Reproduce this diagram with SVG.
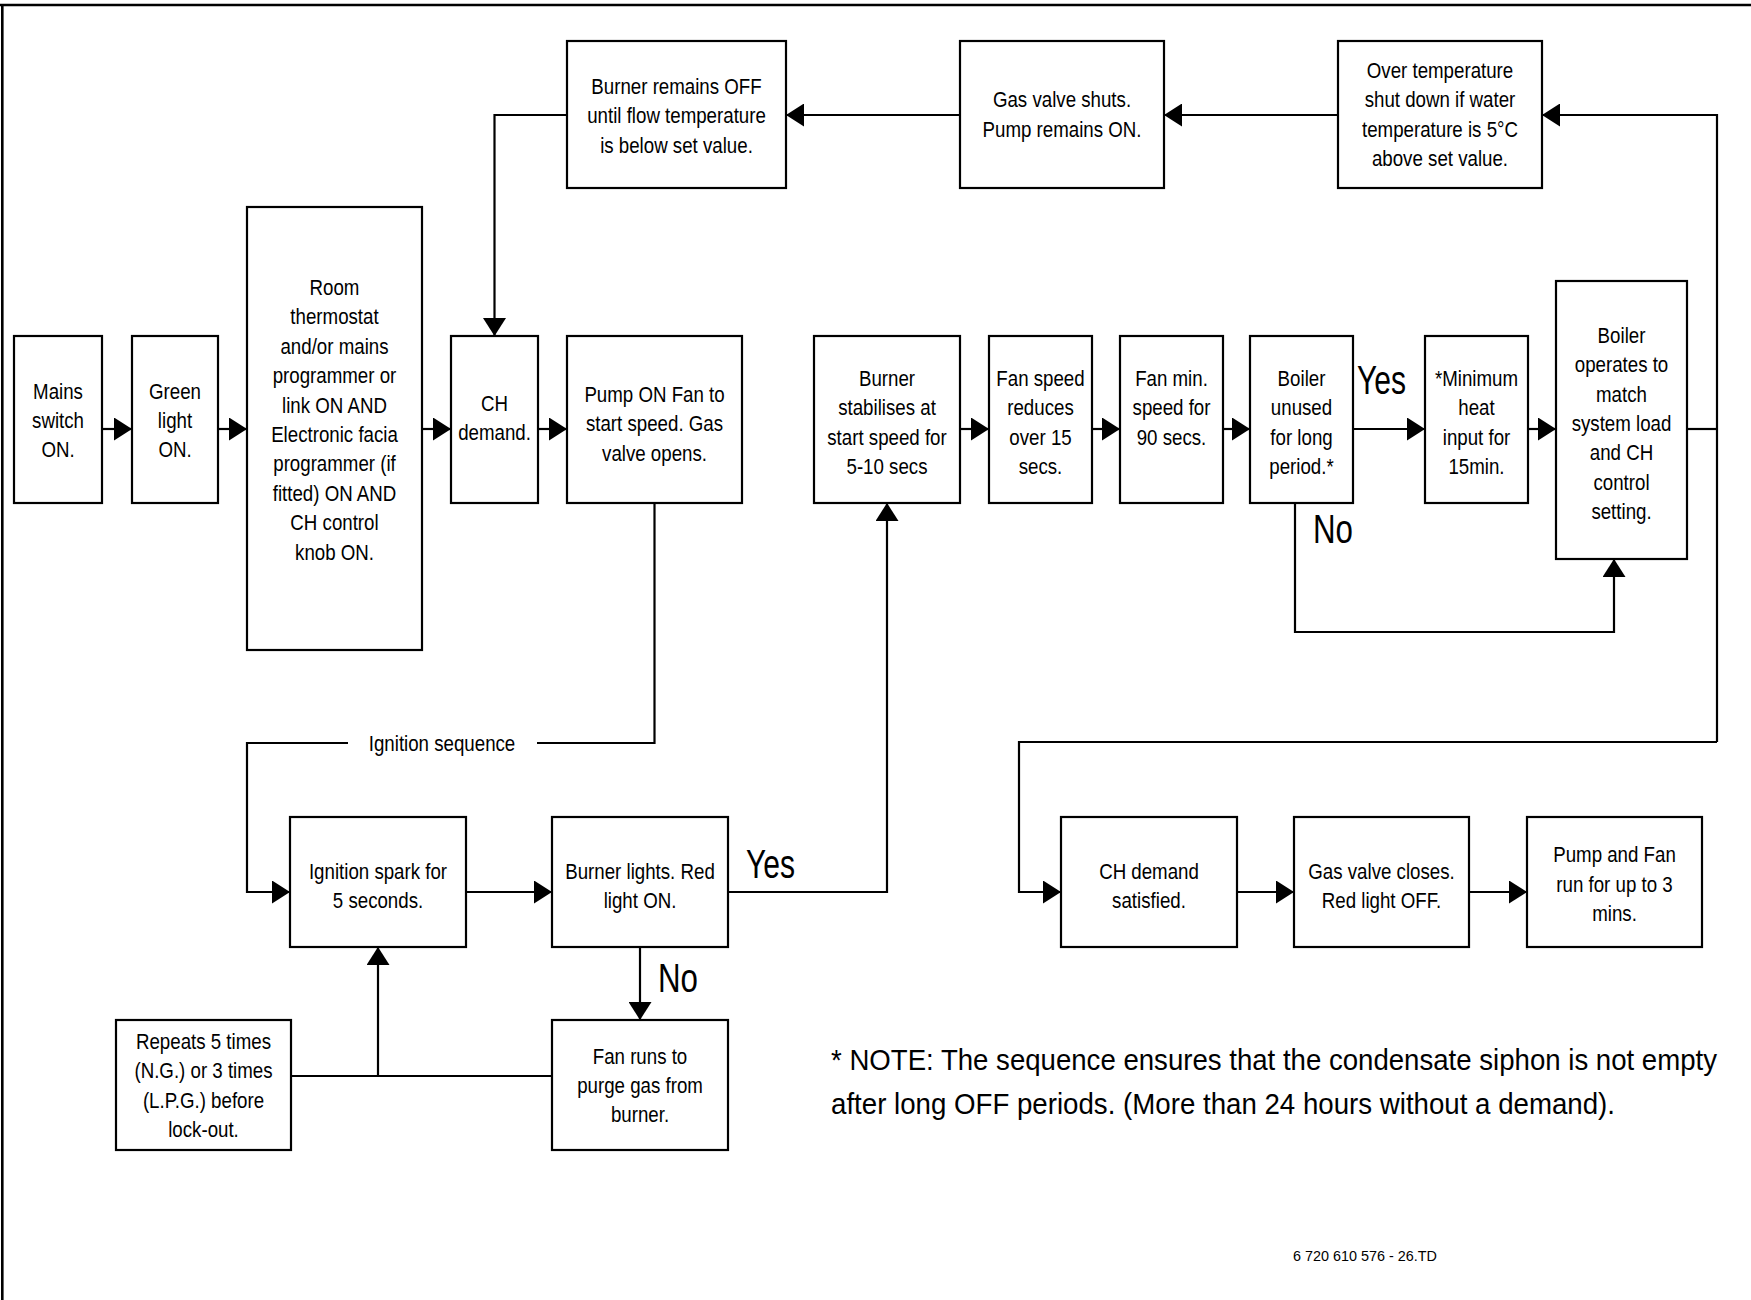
<svg xmlns="http://www.w3.org/2000/svg" width="1751" height="1300" viewBox="0 0 1751 1300">
<style>
.b{fill:#fff;stroke:#000;stroke-width:2.2}
.c{fill:none;stroke:#000;stroke-width:2.2}
text{font-family:"Liberation Sans",Arial,sans-serif;fill:#000}
.t{font-size:22px;text-anchor:middle}
.big{font-size:40px}
.note{font-size:30px}
.code{font-size:15px}
</style>
<defs>
<marker id="ah" markerUnits="userSpaceOnUse" markerWidth="18" markerHeight="23" refX="18" refY="11.5" orient="auto">
<path d="M0,0 L18,11.5 L0,23 z" fill="#000"/>
</marker>
</defs>
<rect width="1751" height="1300" fill="#fff"/>
<path d="M0,5 H1751 M2.3,5 V1300" fill="none" stroke="#000" stroke-width="2.6"/>

<g id="connectors">
<path class="c" d="M102,429 H132" marker-end="url(#ah)"/>
<path class="c" d="M218,429 H247" marker-end="url(#ah)"/>
<path class="c" d="M422,429 H451" marker-end="url(#ah)"/>
<path class="c" d="M538,429 H567" marker-end="url(#ah)"/>
<path class="c" d="M960,429 H989" marker-end="url(#ah)"/>
<path class="c" d="M1092,429 H1120" marker-end="url(#ah)"/>
<path class="c" d="M1223,429 H1250" marker-end="url(#ah)"/>
<path class="c" d="M1353,429 H1425" marker-end="url(#ah)"/>
<path class="c" d="M1528,429 H1556" marker-end="url(#ah)"/>
<path class="c" d="M1687,429 H1717"/>
<path class="c" d="M1717,742 V115 H1542" marker-end="url(#ah)"/>
<path class="c" d="M1717,742 H1019 V892 H1061" marker-end="url(#ah)"/>
<path class="c" d="M1338,115 H1164" marker-end="url(#ah)"/>
<path class="c" d="M960,115 H786" marker-end="url(#ah)"/>
<path class="c" d="M567,115 H494.5 V336" marker-end="url(#ah)"/>
<path class="c" d="M1295,503 V632 H1614 V559" marker-end="url(#ah)"/>
<path class="c" d="M654.5,503 V743 H537"/>
<path class="c" d="M348,743 H247 V892 H290" marker-end="url(#ah)"/>
<path class="c" d="M466,892 H552" marker-end="url(#ah)"/>
<path class="c" d="M728,892 H887 V503" marker-end="url(#ah)"/>
<path class="c" d="M640,947 V1020" marker-end="url(#ah)"/>
<path class="c" d="M552,1076 H291"/>
<path class="c" d="M378,1076 V947" marker-end="url(#ah)"/>
<path class="c" d="M1237,892 H1294" marker-end="url(#ah)"/>
<path class="c" d="M1469,892 H1527" marker-end="url(#ah)"/>
</g>

<g id="n-mains"><rect class="b" x="14" y="336" width="88" height="167"/>
<g transform="translate(58 0) scale(0.85 1)"><text class="t" x="0" y="399">Mains</text><text class="t" x="0" y="428">switch</text><text class="t" x="0" y="457">ON.</text></g></g>
<g id="n-green"><rect class="b" x="132" y="336" width="86" height="167"/>
<g transform="translate(175 0) scale(0.85 1)"><text class="t" x="0" y="399">Green</text><text class="t" x="0" y="428">light</text><text class="t" x="0" y="457">ON.</text></g></g>
<g id="n-room"><rect class="b" x="247" y="207" width="175" height="443"/>
<g transform="translate(334.5 0) scale(0.85 1)"><text class="t" x="0" y="295">Room</text><text class="t" x="0" y="324.4">thermostat</text><text class="t" x="0" y="353.8">and/or mains</text><text class="t" x="0" y="383.2">programmer or</text><text class="t" x="0" y="412.6">link ON AND</text><text class="t" x="0" y="442">Electronic facia</text><text class="t" x="0" y="471.4">programmer (if</text><text class="t" x="0" y="500.8">fitted) ON AND</text><text class="t" x="0" y="530.2">CH control</text><text class="t" x="0" y="559.6">knob ON.</text></g></g>
<g id="n-chdemand"><rect class="b" x="451" y="336" width="87" height="167"/>
<g transform="translate(494.5 0) scale(0.85 1)"><text class="t" x="0" y="411">CH</text><text class="t" x="0" y="440">demand.</text></g></g>
<g id="n-pump"><rect class="b" x="567" y="336" width="175" height="167"/>
<g transform="translate(654.5 0) scale(0.85 1)"><text class="t" x="0" y="402">Pump ON Fan to</text><text class="t" x="0" y="431">start speed. Gas</text><text class="t" x="0" y="461">valve opens.</text></g></g>
<g id="n-stab"><rect class="b" x="814" y="336" width="146" height="167"/>
<g transform="translate(887 0) scale(0.85 1)"><text class="t" x="0" y="386">Burner</text><text class="t" x="0" y="415.5">stabilises at</text><text class="t" x="0" y="445">start speed for</text><text class="t" x="0" y="474">5-10 secs</text></g></g>
<g id="n-fanred"><rect class="b" x="989" y="336" width="103" height="167"/>
<g transform="translate(1040.5 0) scale(0.85 1)"><text class="t" x="0" y="386">Fan speed</text><text class="t" x="0" y="415.5">reduces</text><text class="t" x="0" y="445">over 15</text><text class="t" x="0" y="474">secs.</text></g></g>
<g id="n-fanmin"><rect class="b" x="1120" y="336" width="103" height="167"/>
<g transform="translate(1171.5 0) scale(0.85 1)"><text class="t" x="0" y="386">Fan min.</text><text class="t" x="0" y="415.5">speed for</text><text class="t" x="0" y="445">90 secs.</text></g></g>
<g id="n-unused"><rect class="b" x="1250" y="336" width="103" height="167"/>
<g transform="translate(1301.5 0) scale(0.85 1)"><text class="t" x="0" y="386">Boiler</text><text class="t" x="0" y="415.5">unused</text><text class="t" x="0" y="445">for long</text><text class="t" x="0" y="474">period.*</text></g></g>
<g id="n-minheat"><rect class="b" x="1425" y="336" width="103" height="167"/>
<g transform="translate(1476.5 0) scale(0.85 1)"><text class="t" x="0" y="386">*Minimum</text><text class="t" x="0" y="415.5">heat</text><text class="t" x="0" y="445">input for</text><text class="t" x="0" y="474">15min.</text></g></g>
<g id="n-operates"><rect class="b" x="1556" y="281" width="131" height="278"/>
<g transform="translate(1621.5 0) scale(0.85 1)"><text class="t" x="0" y="343">Boiler</text><text class="t" x="0" y="372">operates to</text><text class="t" x="0" y="402">match</text><text class="t" x="0" y="431">system load</text><text class="t" x="0" y="460">and CH</text><text class="t" x="0" y="490">control</text><text class="t" x="0" y="519">setting.</text></g></g>
<g id="n-remains"><rect class="b" x="567" y="41" width="219" height="147"/>
<g transform="translate(676.5 0) scale(0.85 1)"><text class="t" x="0" y="94">Burner remains OFF</text><text class="t" x="0" y="123">until flow temperature</text><text class="t" x="0" y="153">is below set value.</text></g></g>
<g id="n-shuts"><rect class="b" x="960" y="41" width="204" height="147"/>
<g transform="translate(1062 0) scale(0.85 1)"><text class="t" x="0" y="107.5">Gas valve shuts.</text><text class="t" x="0" y="137.5">Pump remains ON.</text></g></g>
<g id="n-overtemp"><rect class="b" x="1338" y="41" width="204" height="147"/>
<g transform="translate(1440 0) scale(0.85 1)"><text class="t" x="0" y="78">Over temperature</text><text class="t" x="0" y="107.5">shut down if water</text><text class="t" x="0" y="137.5">temperature is 5°C</text><text class="t" x="0" y="166.5">above set value.</text></g></g>
<g id="n-spark"><rect class="b" x="290" y="817" width="176" height="130"/>
<g transform="translate(378 0) scale(0.85 1)"><text class="t" x="0" y="879">Ignition spark for</text><text class="t" x="0" y="908">5 seconds.</text></g></g>
<g id="n-lights"><rect class="b" x="552" y="817" width="176" height="130"/>
<g transform="translate(640 0) scale(0.85 1)"><text class="t" x="0" y="879">Burner lights. Red</text><text class="t" x="0" y="908">light ON.</text></g></g>
<g id="n-purge"><rect class="b" x="552" y="1020" width="176" height="130"/>
<g transform="translate(640 0) scale(0.85 1)"><text class="t" x="0" y="1064">Fan runs to</text><text class="t" x="0" y="1093.5">purge gas from</text><text class="t" x="0" y="1122.5">burner.</text></g></g>
<g id="n-repeats"><rect class="b" x="116" y="1020" width="175" height="130"/>
<g transform="translate(203.5 0) scale(0.85 1)"><text class="t" x="0" y="1049">Repeats 5 times</text><text class="t" x="0" y="1078">(N.G.) or 3 times</text><text class="t" x="0" y="1108">(L.P.G.) before</text><text class="t" x="0" y="1137">lock-out.</text></g></g>
<g id="n-satisfied"><rect class="b" x="1061" y="817" width="176" height="130"/>
<g transform="translate(1149 0) scale(0.85 1)"><text class="t" x="0" y="879">CH demand</text><text class="t" x="0" y="908">satisfied.</text></g></g>
<g id="n-closes"><rect class="b" x="1294" y="817" width="175" height="130"/>
<g transform="translate(1381.5 0) scale(0.85 1)"><text class="t" x="0" y="879">Gas valve closes.</text><text class="t" x="0" y="908">Red light OFF.</text></g></g>
<g id="n-pumpfan"><rect class="b" x="1527" y="817" width="175" height="130"/>
<g transform="translate(1614.5 0) scale(0.85 1)"><text class="t" x="0" y="862">Pump and Fan</text><text class="t" x="0" y="892">run for up to 3</text><text class="t" x="0" y="921">mins.</text></g></g>

<g id="labels">
<g transform="translate(442 0) scale(0.85 1)"><text class="t" x="0" y="751.5">Ignition sequence</text></g>
<text class="big" x="1357" y="394" textLength="49" lengthAdjust="spacingAndGlyphs">Yes</text>
<text class="big" x="1313" y="543" textLength="40" lengthAdjust="spacingAndGlyphs">No</text>
<text class="big" x="746" y="878" textLength="49" lengthAdjust="spacingAndGlyphs">Yes</text>
<text class="big" x="658" y="992" textLength="40" lengthAdjust="spacingAndGlyphs">No</text>
<text class="note" x="831" y="1070" textLength="886" lengthAdjust="spacingAndGlyphs">* NOTE: The sequence ensures that the condensate siphon is not empty</text>
<text class="note" x="831" y="1114" textLength="784" lengthAdjust="spacingAndGlyphs">after long OFF periods. (More than 24 hours without a demand).</text>
<text class="code" x="1293" y="1261" textLength="144" lengthAdjust="spacingAndGlyphs">6 720 610 576 - 26.TD</text>
</g>
</svg>
